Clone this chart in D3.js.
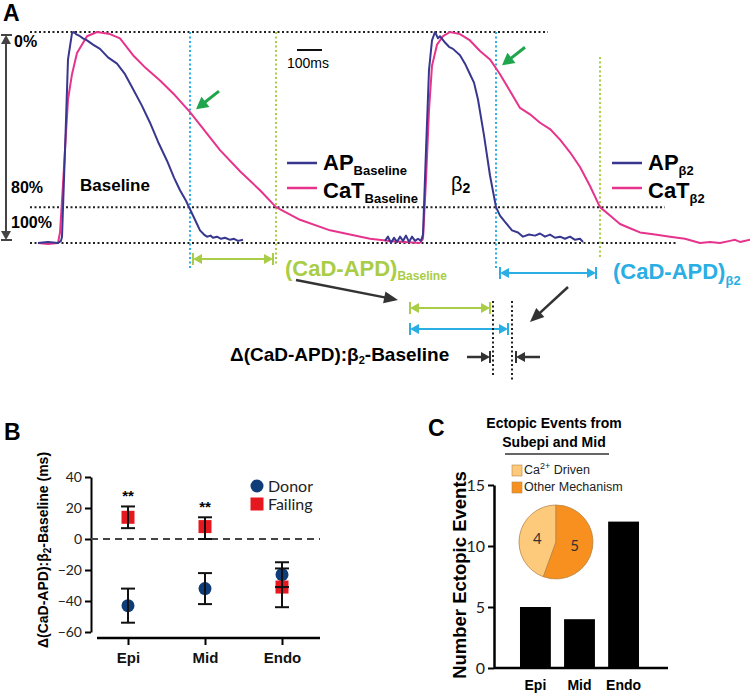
<!DOCTYPE html>
<html>
<head>
<meta charset="utf-8">
<script src="https://cdn.jsdelivr.net/npm/d3@7.9.0/dist/d3.min.js"></script>
<style>
  body { margin: 0; background: #fff; }
  svg { display: block; }
</style>
</head>
<body>
<svg id="fig" width="750" height="693"></svg>
<script>
// ---- Panel A: optical traces, [time (ms), normalised amplitude] ----
const apBaseline = [[0,0],[40,0.005],[80,0],[92,0.01],[96,0.03],[108,0.44],[120,0.87],[136,0.995],[144,1],[152,0.99],
  [168,0.98],[180,0.97],[196,0.96],[220,0.94],[248,0.92],[280,0.88],[316,0.85],[348,0.8],[380,0.73],[416,0.65],
  [448,0.57],[480,0.48],[516,0.39],[544,0.31],[568,0.25],[592,0.2],[608,0.16],[628,0.11],[648,0.06],[664,0.04],
  [676,0.03],[690,0.035],[700,0.025],[716,0.03],[732,0.02],[748,0.025],[768,0.015],[784,0.02],[800,0.01],[820,0.015]];
const catBaseline = [[0,0],[40,-0.005],[80,0],[88,0.05],[96,0.2],[108,0.44],[120,0.68],[136,0.8],[156,0.9],[196,0.98],
  [236,1],[288,0.99],[328,0.97],[380,0.89],[430,0.83],[488,0.77],[548,0.7],[608,0.62],[668,0.53],[728,0.44],
  [808,0.34],[888,0.25],[952,0.17],[1048,0.11],[1168,0.06],[1248,0.04],[1328,0.02],[1408,0.01],[1528,0]];
const apBeta2 = [[1388,0.01],[1400,0.03],[1412,0],[1424,0.025],[1436,0.005],[1448,0.03],[1460,0.01],[1472,0.035],
  [1484,0.005],[1496,0.03],[1508,0.01],[1520,0.02],[1532,0.01],[1540,0.04],[1552,0.44],[1564,0.82],[1576,0.96],
  [1588,1],[1600,0.97],[1608,0.98],[1628,0.95],[1644,0.93],[1660,0.92],[1688,0.89],[1708,0.85],[1728,0.8],
  [1744,0.76],[1760,0.68],[1784,0.51],[1808,0.32],[1832,0.17],[1848,0.13],[1868,0.1],[1896,0.06],[1920,0.05],
  [1940,0.03],[1964,0.04],[1988,0.035],[2008,0.045],[2028,0.03],[2048,0.04],[2068,0.025],[2088,0.03],[2108,0.02],
  [2128,0.03],[2148,0.015],[2168,0.02],[2180,0.005]];
const catBeta2 = [[1528,0],[1540,0.02],[1552,0.3],[1564,0.63],[1576,0.84],[1596,0.94],[1620,0.98],[1648,1],[1688,0.99],
  [1728,0.96],[1768,0.91],[1808,0.87],[1848,0.8],[1888,0.72],[1928,0.64],[1968,0.61],[2008,0.57],[2048,0.54],
  [2088,0.49],[2128,0.43],[2168,0.36],[2208,0.27],[2248,0.17],[2288,0.13],[2328,0.09],[2368,0.07],[2408,0.05],
  [2468,0.04],[2528,0.03],[2588,0.02],[2648,0],[2688,0.005],[2728,0],[2768,0.01],[2788,0.015],[2808,0.005],[2848,0.015]];
const apd80 = [608, 1832];   // baseline, beta2 (ms)
const cad80 = [952, 2248];
const levelValues = [1, 0.17, 0];
const levelLabels = ["0%", "80%", "100%"];

// ---- Panel B ----
const regions = ["Epi", "Mid", "Endo"];
const donorMean = [-43, -32, -23];
const donorLow = [-54, -42, -31];
const donorHigh = [-32, -22, -15];
const failingMean = [14, 8, -31];
const failingLow = [7, 0, -44];
const failingHigh = [21, 14, -19];
const sigMarks = ["**", "**", ""];
const bTicks = [40, 20, 0, -20, -40, -60];

// ---- Panel C ----
const ectopicCounts = [5, 4, 12];
const cTicks = [0, 5, 10, 15];
const pieLabels = ["Ca", "Other Mechanism"];
const pieValues = [4, 5];

const SANS = "'Liberation Sans', Arial, sans-serif";
const LATO = "Lato, 'Liberation Sans', sans-serif";
const NAVY = "#38378f", PINK = "#e6338c", CYAN = "#2aaee3", LIME = "#a9cd46", GREEN = "#1fa64c", DARK = "#333";

const svg = d3.select("#fig");

function dotted(g, x1, y1, x2, y2, color) {
  g.append("line").attr("x1", x1).attr("y1", y1).attr("x2", x2).attr("y2", y2)
    .attr("stroke", color).attr("stroke-width", 2).attr("stroke-dasharray", "2,2.5");
}

function arrowHead(g, xt, yt, angle, len, half, color) {
  const c = Math.cos(angle), s = Math.sin(angle);
  const bx = xt - c * len, by = yt - s * len;
  const pts = [[xt, yt], [bx - s * half, by + c * half], [bx + s * half, by - c * half]];
  g.append("polygon").attr("points", pts.map(p => p.join(",")).join(" ")).attr("fill", color);
}

function arrow(g, x1, y1, x2, y2, color, w = 2.5, len = 13, half = 6) {
  const a = Math.atan2(y2 - y1, x2 - x1);
  g.append("line").attr("x1", x1).attr("y1", y1)
    .attr("x2", x2 - Math.cos(a) * len * 0.7).attr("y2", y2 - Math.sin(a) * len * 0.7)
    .attr("stroke", color).attr("stroke-width", w);
  arrowHead(g, x2, y2, a, len, half, color);
}

function spanArrow(g, x1, x2, yy, color) {
  g.append("line").attr("x1", x1 + 4).attr("x2", x2 - 4).attr("y1", yy).attr("y2", yy)
    .attr("stroke", color).attr("stroke-width", 2);
  arrowHead(g, x1, yy, Math.PI, 9, 5, color);
  arrowHead(g, x2, yy, 0, 9, 5, color);
  [x1, x2].forEach(xx => g.append("line").attr("x1", xx).attr("x2", xx)
    .attr("y1", yy - 6).attr("y2", yy + 6).attr("stroke", color).attr("stroke-width", 2));
}

function ampAt(trace, t) {
  for (let i = 1; i < trace.length; i++) {
    if (trace[i][0] >= t) {
      const [t0, a0] = trace[i - 1], [t1, a1] = trace[i];
      return a0 + (a1 - a0) * (t - t0) / (t1 - t0);
    }
  }
  return trace[trace.length - 1][1];
}

// ================= Panel A =================
const x = d3.scaleLinear().domain([0, 2848]).range([38, 750]);
const y = d3.scaleLinear().domain([0, 1]).range([243, 32]);
const gA = svg.append("g");

gA.append("text").attr("x", 3).attr("y", 21).style("font-family", SANS)
  .style("font-weight", "bold").style("font-size", "23px").text("A");

const levelEnds = [2040, 2508, 2556];
levelValues.forEach((v, i) => dotted(gA, x(-32), y(v), x(levelEnds[i]), y(v), "#222"));

// vertical amplitude arrow
gA.append("line").attr("x1", 6).attr("x2", 6).attr("y1", y(1) + 10).attr("y2", y(0) - 10)
  .attr("stroke", "#444").attr("stroke-width", 2);
arrowHead(gA, 6, y(1) + 3, -Math.PI / 2, 9, 5, "#444");
arrowHead(gA, 6, y(0) - 3, Math.PI / 2, 9, 5, "#444");
[y(1) + 3, y(0) - 3].forEach(yy => gA.append("line").attr("x1", 1).attr("x2", 12)
  .attr("y1", yy).attr("y2", yy).attr("stroke", "#444").attr("stroke-width", 2));

const levelTextY = [47, 193, 228];
levelLabels.forEach((t, i) => gA.append("text").attr("x", i === 0 ? 14 : 11).attr("y", levelTextY[i])
  .style("font-family", SANS).style("font-weight", "bold").style("font-size", "16px").text(t));

// marker verticals
dotted(gA, x(apd80[0]), y(1), x(apd80[0]), 270, CYAN);
dotted(gA, x(cad80[0]), y(1), x(cad80[0]), 265, LIME);
dotted(gA, x(apd80[1]), y(1), x(apd80[1]), 268, CYAN);
dotted(gA, x(cad80[1]), 57, x(cad80[1]), 258, LIME);

const line = d3.line().x(d => x(d[0])).y(d => y(d[1]));
[[catBaseline, PINK], [catBeta2, PINK], [apBaseline, NAVY], [apBeta2, NAVY]].forEach(([tr, c]) =>
  gA.append("path").attr("d", line(tr)).attr("fill", "none").attr("stroke", c)
    .attr("stroke-width", 2).attr("stroke-linejoin", "round"));

// green arrows pointing at CaT where AP hits 80%
[[catBaseline, apd80[0]], [catBeta2, apd80[1]]].forEach(([tr, t]) => {
  const tx = x(t) + 6, ty = y(ampAt(tr, t)) - 3;
  arrow(gA, tx + 23, ty - 18, tx, ty, GREEN, 3, 12, 6.5);
});

// scale bar
gA.append("line").attr("x1", x(1036)).attr("x2", x(1136)).attr("y1", 50).attr("y2", 50)
  .attr("stroke", "#111").attr("stroke-width", 2);
gA.append("text").attr("x", 287).attr("y", 68).style("font-family", SANS)
  .style("font-size", "14px").text("100ms");

gA.append("text").attr("x", 80).attr("y", 191).style("font-family", SANS)
  .style("font-weight", "bold").style("font-size", "17px").text("Baseline");
const b2 = gA.append("text").attr("x", 451).attr("y", 191).style("font-family", SANS).style("font-size", "20px");
b2.append("tspan").text("β");
b2.append("tspan").attr("dy", 2).style("font-size", "14px").style("font-weight", "bold").text("2");

// legends
function traceLegend(x0, sub) {
  [[NAVY, "AP", 163, 170], [PINK, "CaT", 188, 198]].forEach(([c, t, ly, ty]) => {
    gA.append("line").attr("x1", x0).attr("x2", x0 + 30).attr("y1", ly).attr("y2", ly)
      .attr("stroke", c).attr("stroke-width", 2.5);
    const tx = gA.append("text").attr("x", x0 + 36).attr("y", ty).style("font-family", SANS)
      .style("font-weight", "bold").style("font-size", "22px");
    tx.append("tspan").text(t);
    tx.append("tspan").attr("dy", 5).style("font-size", "13px").text(sub);
  });
}
traceLegend(287, "Baseline");
traceLegend(612, "β2");

// CaD-APD spans
spanArrow(gA, x(apd80[0]) + 3, x(cad80[0]) - 3, 259, LIME);
spanArrow(gA, x(apd80[1]) + 4, x(cad80[1]) - 4, 273, CYAN);

const t1 = gA.append("text").attr("x", 285).attr("y", 276).style("font-family", SANS)
  .style("font-weight", "bold").style("font-size", "22px").attr("fill", LIME);
t1.append("tspan").text("(CaD-APD)");
t1.append("tspan").attr("dy", 4).style("font-size", "12px").text("Baseline");
const t2 = gA.append("text").attr("x", 613).attr("y", 279).style("font-family", SANS)
  .style("font-weight", "bold").style("font-size", "22px").attr("fill", CYAN);
t2.append("tspan").text("(CaD-APD)");
t2.append("tspan").attr("dy", 6).style("font-size", "13px").text("β2");

arrow(gA, 296, 280, 398, 300, DARK, 2.5, 14, 6);
arrow(gA, 568, 287, 530, 322, DARK, 2.5, 14, 6);

// difference schematic
const sx = 410;
const gLen = x(cad80[0]) - x(apd80[0]) - 6;
const bLen = x(cad80[1]) - x(apd80[1]) - 6;
spanArrow(gA, sx, sx + gLen, 308, LIME);
spanArrow(gA, sx, sx + bLen, 329, CYAN);
const d1 = sx + gLen + 3, d2 = sx + bLen + 4;
dotted(gA, d1, 301, d1, 377, "#222");
dotted(gA, d2, 301, d2, 380, "#222");

const dt = gA.append("text").attr("x", 230).attr("y", 361).style("font-family", SANS)
  .style("font-weight", "bold").style("font-size", "19px");
dt.append("tspan").text("Δ(CaD-APD):β");
dt.append("tspan").attr("dy", 3).style("font-size", "11px").text("2");
dt.append("tspan").attr("dy", -3).text("-Baseline");

arrow(gA, 467, 357, d1 - 3, 357, DARK, 2.5, 9, 5);
gA.append("line").attr("x1", d1 - 3).attr("x2", d1 - 3).attr("y1", 351).attr("y2", 363)
  .attr("stroke", DARK).attr("stroke-width", 2);
arrow(gA, 540, 357, d2 + 4, 357, DARK, 2.5, 9, 5);
gA.append("line").attr("x1", d2 + 4).attr("x2", d2 + 4).attr("y1", 351).attr("y2", 363)
  .attr("stroke", DARK).attr("stroke-width", 2);

// ================= Panel B =================
const gB = svg.append("g");
gB.append("text").attr("x", 4).attr("y", 440).style("font-family", SANS)
  .style("font-weight", "bold").style("font-size", "23px").text("B");

const yB = d3.scaleLinear().domain([-60, 40]).range([632, 477]);
const xB = d3.scalePoint().domain(regions).range([128, 282]);

const axB = gB.append("g").attr("transform", "translate(91,0)")
  .call(d3.axisLeft(yB).tickValues(bTicks).tickSize(6).tickSizeOuter(0).tickPadding(3));
axB.select(".domain").attr("stroke-width", 2);
axB.selectAll(".tick line").attr("stroke-width", 2);
axB.selectAll(".tick text").style("font-family", LATO).style("font-size", "14px").attr("fill", "#222");

gB.append("line").attr("x1", 97).attr("x2", 320).attr("y1", 638).attr("y2", 638)
  .attr("stroke", "#000").attr("stroke-width", 2.5);
const axBx = gB.append("g").attr("transform", "translate(0,638)")
  .call(d3.axisBottom(xB).tickSize(7).tickSizeOuter(0).tickPadding(7));
axBx.select(".domain").remove();
axBx.selectAll(".tick line").attr("stroke-width", 2);
axBx.selectAll(".tick text").style("font-family", SANS).style("font-weight", "bold")
  .style("font-size", "15px").attr("fill", "#111");

gB.append("line").attr("x1", 91).attr("x2", 320).attr("y1", yB(0)).attr("y2", yB(0))
  .attr("stroke", "#444").attr("stroke-width", 2).attr("stroke-dasharray", "7,5");

function errBars(means, lows, highs) {
  regions.forEach((r, i) => {
    const cx = xB(r);
    gB.append("line").attr("x1", cx).attr("x2", cx).attr("y1", yB(lows[i])).attr("y2", yB(highs[i]))
      .attr("stroke", "#111").attr("stroke-width", 2);
    [lows[i], highs[i]].forEach(v => gB.append("line").attr("x1", cx - 7).attr("x2", cx + 7)
      .attr("y1", yB(v)).attr("y2", yB(v)).attr("stroke", "#111").attr("stroke-width", 2));
  });
}

gB.selectAll("circle.donor").data(donorMean).join("circle").attr("class", "donor")
  .attr("cx", (d, i) => xB(regions[i])).attr("cy", d => yB(d)).attr("r", 6.5).attr("fill", "#0f3d7a");
gB.selectAll("rect.failing").data(failingMean).join("rect").attr("class", "failing")
  .attr("x", (d, i) => xB(regions[i]) - 6.5).attr("y", d => yB(d) - 6.5)
  .attr("width", 13).attr("height", 13).attr("fill", "#e5171f");
errBars(donorMean, donorLow, donorHigh);
errBars(failingMean, failingLow, failingHigh);

sigMarks.forEach((s, i) => gB.append("text").attr("x", xB(regions[i])).attr("y", yB(failingHigh[i]) - 5)
  .attr("text-anchor", "middle").style("font-family", SANS).style("font-weight", "bold")
  .style("font-size", "15px").text(s));

gB.append("circle").attr("cx", 257).attr("cy", 486).attr("r", 6.5).attr("fill", "#0f3d7a");
gB.append("rect").attr("x", 250.5).attr("y", 497.5).attr("width", 13).attr("height", 13).attr("fill", "#e5171f");
gB.append("text").attr("x", 268).attr("y", 492).style("font-family", LATO).style("font-size", "16px")
  .attr("fill", "#222").text("Donor");
gB.append("text").attr("x", 268).attr("y", 510).style("font-family", LATO).style("font-size", "16px")
  .attr("fill", "#222").text("Failing");

const yt = gB.append("text").attr("transform", "rotate(-90)").attr("x", -550).attr("y", 48)
  .attr("text-anchor", "middle").style("font-family", SANS).style("font-weight", "bold").style("font-size", "14px");
yt.append("tspan").text("Δ(CaD-APD):β");
yt.append("tspan").attr("dy", 3).style("font-size", "10px").text("2");
yt.append("tspan").attr("dy", -3).text("-Baseline (ms)");

// ================= Panel C =================
const gC = svg.append("g");
gC.append("text").attr("x", 428).attr("y", 436).style("font-family", SANS)
  .style("font-weight", "bold").style("font-size", "23px").text("C");

gC.append("text").attr("x", 554).attr("y", 428).attr("text-anchor", "middle").style("font-family", SANS)
  .style("font-weight", "bold").style("font-size", "14px").text("Ectopic Events from");
gC.append("text").attr("x", 554).attr("y", 447).attr("text-anchor", "middle").style("font-family", SANS)
  .style("font-weight", "bold").style("font-size", "14px").text("Subepi and Mid");
gC.append("line").attr("x1", 505).attr("x2", 609).attr("y1", 454).attr("y2", 454)
  .attr("stroke", "#333").attr("stroke-width", 1.5);

const pieColors = ["#fdc97a", "#f7901e"];
const yC = d3.scaleLinear().domain([0, 15]).range([668, 485]);
const xC = d3.scaleBand().domain(regions).range([505, 654]).paddingInner(0.3).paddingOuter(0.34);

const axC = gC.append("g").attr("transform", "translate(494,0)")
  .call(d3.axisLeft(yC).tickValues(cTicks).tickSize(6).tickSizeOuter(0).tickPadding(3));
axC.select(".domain").attr("stroke-width", 2.5);
axC.selectAll(".tick line").attr("stroke-width", 2);
axC.selectAll(".tick text").style("font-family", LATO).style("font-size", "16px").attr("fill", "#222");

gC.selectAll("rect.bar").data(ectopicCounts).join("rect").attr("class", "bar")
  .attr("x", (d, i) => xC(regions[i])).attr("y", d => yC(d))
  .attr("width", xC.bandwidth()).attr("height", d => yC(0) - yC(d)).attr("fill", "#000");

gC.append("line").attr("x1", 494).attr("x2", 668).attr("y1", 668).attr("y2", 668)
  .attr("stroke", "#000").attr("stroke-width", 2.5);
regions.forEach(r => gC.append("text").attr("x", xC(r) + xC.bandwidth() / 2).attr("y", 690)
  .attr("text-anchor", "middle").style("font-family", SANS).style("font-weight", "bold")
  .style("font-size", "14px").text(r));

gC.append("text").attr("transform", "rotate(-90)").attr("x", -575).attr("y", 466)
  .attr("text-anchor", "middle").style("font-family", SANS).style("font-weight", "bold")
  .style("font-size", "18.5px").text("Number Ectopic Events");

// pie
const total = d3.sum(pieValues);
const pie = d3.pie().sort(null)
  .startAngle(-2 * Math.PI * pieValues[0] / total)
  .endAngle(2 * Math.PI * (1 - pieValues[0] / total));
const arcs = pie(pieValues);
const arc = d3.arc().innerRadius(0).outerRadius(37);
const labelArc = d3.arc().innerRadius(19).outerRadius(19);
const gP = gC.append("g").attr("transform", "translate(556,542)");
gP.selectAll("path").data(arcs).join("path").attr("d", arc)
  .attr("fill", (d, i) => pieColors[i]).attr("stroke", "#b8864a").attr("stroke-width", 0.8);
gP.selectAll("text").data(arcs).join("text")
  .attr("transform", d => `translate(${labelArc.centroid(d)})`)
  .attr("text-anchor", "middle").attr("dy", "0.35em")
  .style("font-family", LATO).style("font-size", "15px").attr("fill", "#333")
  .text(d => d.data);

// pie legend
pieLabels.forEach((lab, i) => {
  gC.append("rect").attr("x", 512).attr("y", 465 + i * 17).attr("width", 10).attr("height", 11)
    .attr("fill", pieColors[i]).attr("stroke", "#b8864a").attr("stroke-width", 0.6);
  const tx = gC.append("text").attr("x", 524).attr("y", 474 + i * 17).style("font-family", SANS)
    .style("font-size", "12.5px").attr("fill", "#222");
  tx.append("tspan").text(lab);
  if (i === 0) {
    tx.append("tspan").attr("dy", -5).style("font-size", "9px").text("2+");
    tx.append("tspan").attr("dy", 5).text(" Driven");
  }
});
</script>
</body>
</html>
